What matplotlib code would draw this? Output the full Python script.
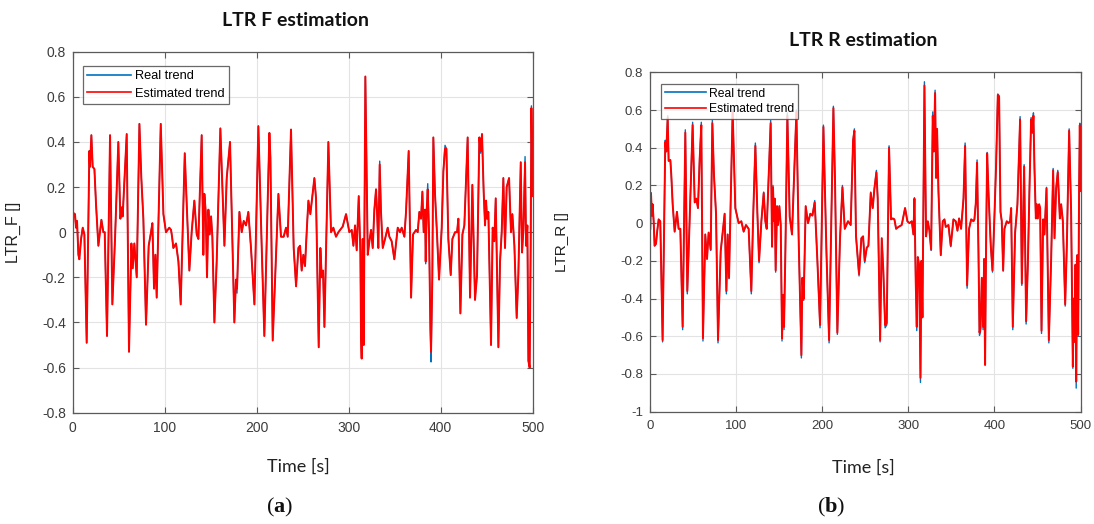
import matplotlib
matplotlib.use("Agg")
import matplotlib.pyplot as plt
from matplotlib.ticker import FixedLocator, FixedFormatter

plt.rcParams["axes.unicode_minus"] = False
plt.rcParams["mathtext.fontset"] = "custom"
plt.rcParams["mathtext.rm"] = "Liberation Serif"
plt.rcParams["mathtext.bf"] = "Liberation Serif:bold"

# ---------------- LTR front axle ----------------
f_time = [
    0.0, 0.7, 2.5, 3.6, 4.7, 6.2, 7.2, 9.1, 10.9, 12.7,
    15.2, 18.1, 18.8, 20.3, 21.7, 23.6, 25.4, 27.9, 31.2, 33.3,
    34.8, 37.3, 40.6, 43.1, 46.0, 49.6, 51.8, 53.3, 54.3, 56.9,
    58.7, 61.2, 63.8, 65.2, 67.0, 69.6, 72.5, 74.6, 76.8, 79.7,
    82.6, 85.1, 86.6, 88.4, 89.9, 91.3, 95.7, 98.6, 101.4, 105.0,
    106.9, 108.0, 109.4, 112.3, 114.9, 117.4, 121.8, 123.2, 126.8, 129.3,
    132.2, 134.8, 136.6, 140.2, 142.0, 143.1, 144.6, 146.0, 147.5, 148.9,
    150.4, 151.8, 154.0, 156.5, 160.5, 164.9, 167.4, 171.0, 175.7, 177.5,
    178.6, 181.2, 183.7, 185.9, 188.4, 190.9, 193.8, 197.5, 201.8, 205.4,
    208.3, 213.8, 214.9, 217.4, 223.6, 226.4, 229.3, 231.9, 233.7, 237.3,
    240.2, 242.8, 245.3, 247.1, 248.9, 250.7, 252.5, 254.7, 256.2, 258.3,
    262.7, 264.5, 267.4, 269.2, 270.7, 272.1, 273.6, 277.9, 280.8, 283.3,
    286.2, 288.8, 293.5, 297.1, 300.7, 303.3, 305.1, 306.9, 308.7, 310.9,
    312.7, 313.4, 314.1, 315.2, 316.3, 318.1, 320.7, 322.5, 324.3, 326.1,
    327.9, 329.7, 330.8, 332.2, 333.7, 335.1, 337.0, 339.5, 342.4, 344.2,
    346.7, 349.6, 353.3, 355.8, 357.6, 360.5, 362.3, 365.2, 367.8, 369.9,
    373.2, 375.0, 376.8, 378.6, 380.1, 381.5, 383.0, 383.7, 384.8, 385.9,
    387.3, 388.8, 389.5, 390.9, 392.0, 393.8, 396.0, 398.2, 401.1, 402.9,
    404.7, 406.2, 408.3, 410.9, 412.7, 415.6, 417.8, 419.2, 421.4, 423.6,
    425.7, 429.3, 431.9, 434.4, 437.3, 439.5, 442.0, 443.5, 444.9, 446.7,
    448.2, 449.3, 450.4, 451.8, 454.7, 456.5, 458.3, 459.8, 462.7, 464.5,
    466.3, 468.1, 469.9, 471.7, 474.3, 476.4, 477.9, 480.1, 482.6, 484.4,
    487.0, 488.4, 489.9, 491.7, 492.8, 494.2, 495.3, 496.7, 497.8, 498.6,
    500.0,
]
f_estimated = [
    -0.02, 0.085, 0.08, 0.02, 0.05, -0.10, -0.12, -0.03, 0.02, -0.01,
    -0.49, 0.36, 0.29, 0.43, 0.29, 0.28, 0.12, -0.06, 0.055, 0.0,
    0.0, -0.46, 0.43, -0.32, -0.03, 0.40, 0.06, 0.11, 0.07, 0.29,
    0.435, -0.53, -0.05, -0.16, -0.05, -0.20, 0.48, 0.24, 0.06, -0.41,
    -0.06, 0.0, 0.04, -0.25, -0.10, -0.29, 0.48, 0.08, 0.0, 0.02,
    0.01, -0.02, -0.07, -0.05, -0.13, -0.32, 0.35, 0.20, -0.17, 0.0,
    0.14, -0.01, -0.03, 0.43, -0.10, 0.17, 0.09, -0.20, 0.10, -0.01,
    0.07, -0.02, -0.40, -0.13, 0.46, -0.06, 0.24, 0.40, -0.40, -0.21,
    -0.25, 0.09, 0.0, 0.05, 0.03, 0.09, -0.07, -0.32, 0.47, -0.06,
    -0.46, 0.44, 0.33, -0.48, 0.17, -0.02, -0.02, 0.02, -0.02, 0.455,
    -0.07, -0.24, -0.07, -0.06, -0.17, -0.10, -0.15, 0.03, 0.14, 0.08,
    0.24, 0.15, -0.51, -0.07, -0.20, -0.17, -0.42, 0.40, 0.0, 0.02,
    -0.02, 0.0, 0.025, 0.08, 0.0, 0.01, -0.06, 0.03, -0.08, 0.16,
    -0.09, -0.46, -0.56, -0.03, -0.50, 0.69, -0.10, -0.04, 0.01, -0.07,
    0.10, 0.19, 0.09, -0.07, 0.30, 0.09, -0.07, -0.03, 0.02, -0.02,
    -0.04, -0.12, 0.02, 0.0, 0.02, -0.02, 0.09, 0.36, -0.29, -0.01,
    0.01, 0.0, 0.09, 0.06, 0.18, 0.0, 0.10, -0.13, 0.10, 0.19,
    0.0, -0.43, -0.53, -0.20, 0.42, 0.17, -0.01, -0.21, 0.02, 0.27,
    0.37, 0.37, -0.03, -0.19, -0.03, 0.0, 0.0, 0.06, -0.36, -0.01,
    0.03, 0.42, -0.29, 0.21, -0.30, -0.19, 0.42, 0.36, 0.435, 0.18,
    0.03, 0.14, 0.06, 0.09, -0.50, 0.02, -0.04, 0.15, -0.51, -0.13,
    0.0, 0.24, -0.07, 0.20, 0.24, 0.0, 0.08, -0.06, -0.38, -0.19,
    0.31, -0.09, 0.01, 0.31, -0.06, 0.03, -0.57, -0.60, -0.06, 0.55,
    0.16,
]
f_real = [
    -0.05, 0.085, 0.08, 0.02, 0.05, -0.10, -0.12, -0.03, 0.02, -0.01,
    -0.49, 0.36, 0.29, 0.43, 0.29, 0.28, 0.12, -0.06, 0.055, 0.0,
    0.0, -0.46, 0.43, -0.32, -0.03, 0.40, 0.06, 0.11, 0.07, 0.29,
    0.435, -0.53, -0.05, -0.16, -0.05, -0.20, 0.48, 0.24, 0.06, -0.41,
    -0.06, 0.0, 0.04, -0.25, -0.10, -0.29, 0.48, 0.08, 0.0, 0.02,
    0.01, -0.02, -0.07, -0.05, -0.13, -0.32, 0.35, 0.20, -0.17, 0.0,
    0.14, -0.01, -0.03, 0.43, -0.10, 0.17, 0.09, -0.20, 0.10, -0.01,
    0.07, -0.02, -0.40, -0.13, 0.46, -0.06, 0.24, 0.40, -0.40, -0.21,
    -0.27, 0.09, 0.0, 0.05, 0.03, 0.09, -0.07, -0.32, 0.47, -0.06,
    -0.46, 0.44, 0.33, -0.48, 0.17, -0.02, -0.02, 0.02, -0.02, 0.455,
    -0.07, -0.24, -0.07, -0.06, -0.17, -0.10, -0.15, 0.03, 0.14, 0.08,
    0.24, 0.15, -0.51, -0.07, -0.20, -0.17, -0.42, 0.40, 0.0, 0.02,
    -0.02, 0.0, 0.025, 0.08, 0.0, 0.01, -0.06, 0.03, -0.08, 0.16,
    -0.09, -0.46, -0.56, -0.05, -0.50, 0.69, -0.10, -0.04, 0.01, -0.07,
    0.10, 0.19, 0.09, -0.07, 0.315, 0.09, -0.07, -0.03, 0.02, -0.02,
    -0.04, -0.12, 0.02, 0.0, 0.02, -0.02, 0.09, 0.36, -0.29, -0.01,
    0.01, 0.0, 0.09, 0.06, 0.18, 0.0, 0.10, -0.14, 0.10, 0.215,
    0.0, -0.43, -0.575, -0.20, 0.42, 0.17, -0.01, -0.21, 0.02, 0.27,
    0.385, 0.37, -0.03, -0.19, -0.03, 0.0, 0.0, 0.06, -0.36, -0.01,
    0.03, 0.42, -0.29, 0.21, -0.30, -0.19, 0.42, 0.35, 0.435, 0.18,
    0.03, 0.14, 0.06, 0.09, -0.50, 0.02, -0.04, 0.15, -0.51, -0.13,
    0.0, 0.24, -0.07, 0.20, 0.24, 0.0, 0.08, -0.06, -0.38, -0.19,
    0.31, -0.09, 0.01, 0.335, -0.06, 0.03, -0.57, -0.60, -0.06, 0.56,
    0.16,
]

# ---------------- LTR rear axle ----------------
r_time = [
    0.0, 0.8, 1.9, 2.7, 3.9, 5.0, 6.6, 8.1, 9.7, 11.6,
    14.3, 17.4, 18.6, 20.2, 21.3, 23.3, 24.4, 26.0, 28.3, 31.0,
    32.9, 34.9, 37.6, 40.7, 43.0, 45.3, 49.2, 51.6, 53.5, 55.4,
    57.4, 59.3, 61.2, 63.9, 65.9, 67.8, 70.2, 72.1, 74.0, 76.4,
    78.7, 81.8, 86.4, 88.4, 89.9, 91.5, 95.7, 98.8, 102.7, 105.8,
    108.5, 111.2, 114.3, 117.4, 119.4, 122.1, 124.4, 126.4, 129.1, 131.8,
    133.7, 135.3, 137.6, 139.9, 141.5, 142.6, 143.8, 144.6, 145.7, 147.3,
    148.4, 150.0, 151.6, 153.1, 154.3, 155.4, 157.0, 159.3, 162.0, 164.7,
    169.8, 172.5, 175.6, 176.7, 178.3, 180.6, 183.3, 186.0, 188.4, 191.1,
    194.2, 197.3, 201.2, 204.7, 207.8, 212.8, 214.7, 217.4, 220.5, 223.3,
    226.0, 229.8, 232.9, 235.7, 237.2, 239.1, 242.6, 245.3, 247.3, 249.2,
    251.6, 253.5, 256.2, 258.5, 260.5, 262.8, 264.3, 267.1, 269.0, 270.9,
    272.9, 274.8, 277.5, 279.8, 281.8, 283.7, 285.7, 288.4, 292.2, 296.1,
    298.8, 301.2, 303.9, 305.8, 307.0, 308.5, 309.7, 310.9, 312.4, 314.0,
    315.1, 316.3, 318.6, 320.5, 322.5, 324.4, 326.4, 328.3, 329.5, 331.0,
    332.2, 333.3, 334.9, 337.6, 339.9, 341.9, 343.4, 346.5, 349.2, 352.3,
    355.0, 357.0, 358.9, 361.2, 364.0, 365.9, 368.2, 370.5, 372.9, 375.6,
    376.7, 378.3, 379.8, 381.4, 382.6, 383.7, 385.3, 386.8, 388.0, 389.1,
    390.3, 391.5, 393.0, 395.7, 397.7, 400.0, 401.9, 403.9, 405.4, 407.0,
    408.5, 410.1, 411.6, 414.3, 416.3, 418.2, 419.4, 421.3, 424.0, 426.7,
    429.8, 431.8, 434.5, 436.8, 438.8, 440.7, 442.6, 444.2, 445.3, 446.5,
    448.1, 449.2, 450.4, 451.9, 453.1, 454.7, 456.6, 458.1, 460.5, 463.2,
    465.9, 468.2, 469.8, 471.7, 473.6, 476.0, 477.5, 479.5, 482.2, 484.1,
    486.8, 489.1, 491.1, 492.2, 493.4, 494.2, 495.0, 496.1, 497.3, 498.4,
    499.2, 500.0,
]
r_estimated = [
    -0.03, 0.16, 0.04, 0.10, 0.01, -0.12, -0.11, -0.04, 0.02, 0.01,
    -0.62, 0.43, 0.38, 0.56, 0.33, 0.335, 0.255, 0.10, -0.045, 0.06,
    -0.03, -0.03, -0.55, 0.48, -0.36, -0.045, 0.52, 0.11, 0.13, 0.08,
    0.34, 0.52, -0.61, -0.06, -0.19, -0.05, -0.14, 0.53, 0.255, 0.05,
    -0.62, -0.15, 0.05, -0.36, -0.06, -0.29, 0.59, 0.08, 0.0, 0.01,
    -0.045, -0.01, -0.03, -0.36, 0.01, 0.41, 0.06, -0.20, 0.01, 0.16,
    0.01, -0.03, 0.255, 0.53, -0.125, 0.19, 0.01, 0.13, -0.25, 0.09,
    -0.01, 0.09, -0.01, -0.61, -0.38, -0.55, -0.15, 0.57, 0.035, -0.06,
    0.59, -0.10, -0.70, -0.29, -0.40, 0.09, 0.0, 0.05, 0.04, 0.11,
    -0.20, -0.54, 0.51, -0.15, -0.62, 0.61, 0.22, -0.58, -0.08, 0.19,
    -0.03, 0.01, -0.01, 0.44, 0.49, -0.07, -0.27, -0.08, -0.07, -0.20,
    -0.13, -0.12, 0.16, 0.08, 0.185, 0.27, 0.13, -0.62, -0.08, -0.26,
    -0.54, -0.53, 0.40, 0.02, 0.025, 0.02, -0.03, -0.02, -0.01, 0.08,
    0.01, 0.0, 0.01, -0.06, 0.13, -0.31, -0.55, -0.18, -0.22, -0.82,
    -0.20, -0.50, 0.73, -0.07, 0.01, -0.04, -0.14, 0.57, 0.38, 0.69,
    0.24, 0.50, 0.17, -0.17, 0.01, 0.02, -0.02, -0.01, -0.12, 0.02,
    0.01, -0.04, 0.025, -0.03, 0.13, 0.41, -0.33, -0.03, 0.02, 0.01,
    0.02, 0.105, 0.32, -0.15, -0.58, -0.56, -0.29, -0.55, -0.19, -0.75,
    -0.10, 0.37, 0.17, -0.12, -0.25, 0.04, 0.31, 0.68, 0.67, 0.06,
    0.01, -0.25, -0.03, 0.01, 0.0, 0.01, 0.08, -0.55, -0.05, 0.10,
    0.55, -0.32, 0.30, -0.52, -0.22, 0.185, 0.55, 0.48, 0.57, 0.29,
    0.025, 0.10, 0.025, 0.10, 0.08, -0.57, 0.02, -0.06, 0.185, -0.62,
    -0.19, 0.28, -0.08, 0.185, 0.27, 0.025, 0.10, 0.01, -0.43, -0.12,
    0.49, 0.06, -0.76, -0.40, -0.63, -0.22, -0.84, -0.17, -0.59, 0.20,
    0.52, 0.17,
]
r_real = [
    -0.03, 0.16, 0.04, 0.10, 0.01, -0.12, -0.11, -0.04, 0.02, 0.01,
    -0.63, 0.44, 0.38, 0.57, 0.33, 0.335, 0.255, 0.10, -0.045, 0.06,
    -0.03, -0.03, -0.565, 0.495, -0.375, -0.045, 0.535, 0.11, 0.13, 0.08,
    0.35, 0.535, -0.625, -0.06, -0.19, -0.05, -0.145, 0.545, 0.255, 0.05,
    -0.635, -0.15, 0.05, -0.375, -0.06, -0.295, 0.60, 0.08, 0.0, 0.01,
    -0.045, -0.01, -0.03, -0.375, 0.01, 0.425, 0.06, -0.21, 0.01, 0.165,
    0.01, -0.03, 0.255, 0.545, -0.125, 0.20, 0.01, 0.13, -0.26, 0.09,
    -0.01, 0.09, -0.01, -0.625, -0.38, -0.565, -0.15, 0.585, 0.035, -0.06,
    0.60, -0.10, -0.715, -0.29, -0.41, 0.09, 0.0, 0.05, 0.04, 0.12,
    -0.20, -0.555, 0.52, -0.15, -0.635, 0.62, 0.22, -0.59, -0.08, 0.20,
    -0.03, 0.01, -0.01, 0.44, 0.50, -0.07, -0.28, -0.08, -0.07, -0.21,
    -0.13, -0.12, 0.165, 0.08, 0.185, 0.28, 0.13, -0.63, -0.08, -0.26,
    -0.555, -0.54, 0.41, 0.02, 0.025, 0.02, -0.03, -0.02, -0.01, 0.08,
    0.01, 0.0, 0.01, -0.06, 0.135, -0.31, -0.57, -0.18, -0.22, -0.845,
    -0.20, -0.50, 0.75, -0.07, 0.01, -0.04, -0.145, 0.59, 0.38, 0.705,
    0.24, 0.50, 0.17, -0.17, 0.01, 0.02, -0.02, -0.01, -0.125, 0.02,
    0.01, -0.04, 0.025, -0.03, 0.13, 0.425, -0.345, -0.03, 0.02, 0.01,
    0.02, 0.105, 0.335, -0.15, -0.595, -0.575, -0.29, -0.565, -0.19, -0.755,
    -0.10, 0.375, 0.17, -0.12, -0.26, 0.04, 0.31, 0.685, 0.675, 0.06,
    0.01, -0.255, -0.03, 0.01, 0.0, 0.01, 0.08, -0.565, -0.05, 0.10,
    0.565, -0.33, 0.31, -0.535, -0.22, 0.185, 0.56, 0.48, 0.585, 0.29,
    0.025, 0.10, 0.025, 0.10, 0.08, -0.585, 0.02, -0.06, 0.19, -0.635,
    -0.19, 0.29, -0.08, 0.185, 0.28, 0.025, 0.10, 0.01, -0.44, -0.12,
    0.50, 0.06, -0.77, -0.40, -0.63, -0.22, -0.875, -0.17, -0.60, 0.20,
    0.53, 0.17,
]

x_ticks = [0, 100, 200, 300, 400, 500]
f_yticks = [-0.8, -0.6, -0.4, -0.2, 0, 0.2, 0.4, 0.6, 0.8]
f_ylabels = ["-0.8", "-0.6", "-0.4", "-0.2", "0", "0.2", "0.4", "0.6", "0.8"]
r_yticks = [-1, -0.8, -0.6, -0.4, -0.2, 0, 0.2, 0.4, 0.6, 0.8]
r_ylabels = ["-1", "-0.8", "-0.6", "-0.4", "-0.2", "0", "0.2", "0.4", "0.6", "0.8"]

REAL_COLOR = "#0072BD"
EST_COLOR = "#FF0000"
AX_COLOR = "#5a5a5a"
TICK_TXT = "#3c3c3c"

W, H = 1094, 524
fig = plt.figure(figsize=(W / 100, H / 100), dpi=100)
fig.patch.set_facecolor("white")


def px_box(left, top, right, bottom):
    return [left / W, 1 - bottom / H, (right - left) / W, (bottom - top) / H]


def style_axes(ax, yticks, ylabels, ylim, fs):
    ax.set_xlim(0, 500)
    ax.set_ylim(*ylim)
    ax.xaxis.set_major_locator(FixedLocator(x_ticks))
    ax.xaxis.set_major_formatter(FixedFormatter([str(v) for v in x_ticks]))
    ax.yaxis.set_major_locator(FixedLocator(yticks))
    ax.yaxis.set_major_formatter(FixedFormatter(ylabels))
    ax.grid(True, color="#e3e3e3", linewidth=0.8)
    ax.set_axisbelow(True)
    for s in ax.spines.values():
        s.set_color(AX_COLOR)
        s.set_linewidth(0.9)
    ax.tick_params(direction="in", length=4, width=0.8, color=AX_COLOR,
                   top=True, right=True, labelsize=fs, labelcolor=TICK_TXT)
    ax.tick_params(axis="y", pad=5)
    ax.tick_params(axis="x", pad=6)
    for lab in ax.get_xticklabels() + ax.get_yticklabels():
        lab.set_fontfamily("Liberation Sans")


# Left panel
ax1 = fig.add_axes(px_box(72.7, 51.7, 532.7, 412.7))
ax1.plot(f_time, f_real, color=REAL_COLOR, lw=1.0, label="Real trend")
ax1.plot(f_time, f_estimated, color=EST_COLOR, lw=1.4, label="Estimated trend")
style_axes(ax1, f_yticks, f_ylabels, (-0.8, 0.8), 10)
leg1 = ax1.legend(loc="upper left", bbox_to_anchor=(0.0224, 0.9604),
                  borderaxespad=0, prop={"family": "Liberation Sans", "size": 9.2},
                  frameon=True, fancybox=False, edgecolor="#444444",
                  handlelength=3.4, handletextpad=0.3, labelspacing=0.4,
                  borderpad=0.35)
leg1.get_frame().set_linewidth(0.9)
for h in leg1.legend_handles:
    h.set_linewidth(1.2)
ax1.set_ylabel("LTR_F []", family="Liberation Sans", fontsize=11.5, color="#222222")
ax1.yaxis.set_label_coords(-0.113, 0.5)

# Right panel
ax2 = fig.add_axes(px_box(650.3, 72.3, 1080.5, 411.7))
ax2.plot(r_time, r_real, color=REAL_COLOR, lw=1.0, label="Real trend")
ax2.plot(r_time, r_estimated, color=EST_COLOR, lw=1.4, label="Estimated trend")
style_axes(ax2, r_yticks, r_ylabels, (-1, 0.8), 9.5)
leg2 = ax2.legend(loc="upper left", bbox_to_anchor=(0.025, 0.9655),
                  borderaxespad=0, prop={"family": "Liberation Sans", "size": 8.7},
                  frameon=True, fancybox=False, edgecolor="#444444",
                  handlelength=3.4, handletextpad=0.3, labelspacing=0.3,
                  borderpad=0.3)
leg2.get_frame().set_linewidth(0.9)
for h in leg2.legend_handles:
    h.set_linewidth(1.2)
ax2.set_ylabel("LTR_R []", family="Liberation Sans", fontsize=11, color="#222222")
ax2.yaxis.set_label_coords(-0.19, 0.5)

# Titles, axis names and panel tags
fig.text(296 / W, 1 - 21 / H, "LTR F estimation", ha="center", va="center",
         family="Lato", fontweight="bold", fontsize=14, color="#111111")
fig.text(863 / W, 1 - 41 / H, "LTR R estimation", ha="center", va="center",
         family="Lato", fontweight="bold", fontsize=14, color="#111111")
fig.text(298 / W, 1 - 467 / H, "Time [s]", ha="center", va="center",
         family="Lato", fontsize=13, color="#222222")
fig.text(863 / W, 1 - 468 / H, "Time [s]", ha="center", va="center",
         family="Lato", fontsize=13, color="#222222")
fig.text(280 / W, 1 - 507 / H, r"($\mathbf{a}$)", ha="center", va="center",
         family="Liberation Serif", fontsize=16, color="#111111")
fig.text(831 / W, 1 - 507 / H, r"($\mathbf{b}$)", ha="center", va="center",
         family="Liberation Serif", fontsize=16, color="#111111")

fig.savefig("out.png", dpi=100, facecolor="white")
